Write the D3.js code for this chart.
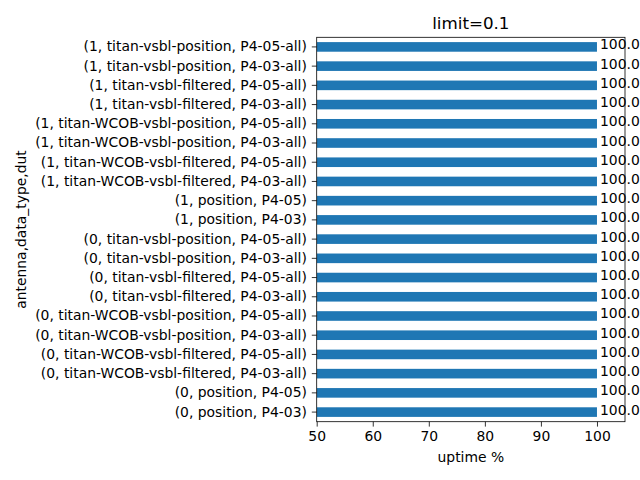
<!DOCTYPE html>
<html>
<head>
<meta charset="utf-8">
<script src="https://cdn.jsdelivr.net/npm/d3@7"></script>
<style>
body { margin: 0; background: #fff; }
text { font-family: "DejaVu Sans", sans-serif; }
</style>
</head>
<body>
<svg id="chart" width="640" height="480"></svg>
<script>
// categories, bottom to top as in the picture
var categories = [
    "(0, position, P4-03)",
    "(0, position, P4-05)",
    "(0, titan-WCOB-vsbl-filtered, P4-03-all)",
    "(0, titan-WCOB-vsbl-filtered, P4-05-all)",
    "(0, titan-WCOB-vsbl-position, P4-03-all)",
    "(0, titan-WCOB-vsbl-position, P4-05-all)",
    "(0, titan-vsbl-filtered, P4-03-all)",
    "(0, titan-vsbl-filtered, P4-05-all)",
    "(0, titan-vsbl-position, P4-03-all)",
    "(0, titan-vsbl-position, P4-05-all)",
    "(1, position, P4-03)",
    "(1, position, P4-05)",
    "(1, titan-WCOB-vsbl-filtered, P4-03-all)",
    "(1, titan-WCOB-vsbl-filtered, P4-05-all)",
    "(1, titan-WCOB-vsbl-position, P4-03-all)",
    "(1, titan-WCOB-vsbl-position, P4-05-all)",
    "(1, titan-vsbl-filtered, P4-03-all)",
    "(1, titan-vsbl-filtered, P4-05-all)",
    "(1, titan-vsbl-position, P4-03-all)",
    "(1, titan-vsbl-position, P4-05-all)"
];
var uptime = [100, 100, 100, 100, 100, 100, 100, 100, 100, 100,
              100, 100, 100, 100, 100, 100, 100, 100, 100, 100];
var xTicks = [50, 60, 70, 80, 90, 100];

var axLeft = 316.7, axRight = 625, axTop = 37.3, axBottom = 421.7;

var svg = d3.select("#chart");

var x = d3.scaleLinear().domain([50, 105]).range([axLeft, axRight]);
var y = d3.scaleBand()
    .domain(categories.slice().reverse())
    .range([axTop, axBottom])
    .paddingInner(0.5)
    .paddingOuter(0.25);

svg.append("defs").append("clipPath").attr("id", "clip")
    .append("rect")
    .attr("x", axLeft).attr("y", axTop)
    .attr("width", axRight - axLeft).attr("height", axBottom - axTop);

// bars
svg.append("g").attr("clip-path", "url(#clip)")
    .selectAll("rect")
    .data(categories)
    .enter().append("rect")
    .attr("x", x(50))
    .attr("y", function(d) { return y(d); })
    .attr("width", function(d, i) { return x(uptime[i]) - x(50); })
    .attr("height", y.bandwidth())
    .style("fill", "#1f77b4");

// axes
var xAxis = svg.append("g")
    .attr("transform", "translate(0," + axBottom + ")")
    .call(d3.axisBottom(x).tickValues(xTicks).tickSize(4.9).tickPadding(4.9).tickFormat(d3.format("d")));
var yAxis = svg.append("g")
    .attr("transform", "translate(" + axLeft + ",0)")
    .call(d3.axisLeft(y).tickSize(4.9).tickPadding(4.9));

[xAxis, yAxis].forEach(function(a) {
    a.select(".domain").remove();
    a.selectAll("line").style("stroke", "#000").style("stroke-width", 0.8);
    a.selectAll("text").style("font-size", "13.9px").style("fill", "#000")
        .style("font-family", "DejaVu Sans");
});

// frame
svg.append("rect")
    .attr("x", axLeft).attr("y", axTop)
    .attr("width", axRight - axLeft).attr("height", axBottom - axTop)
    .style("fill", "none").style("stroke", "#000").style("stroke-width", 0.8);

// value labels
svg.append("g")
    .selectAll("text")
    .data(categories)
    .enter().append("text")
    .attr("x", function(d, i) { return x(uptime[i]) + 3; })
    .attr("y", function(d) { return y(d) + y.bandwidth() / 2 + 2.5; })
    .style("font-size", "13.9px")
    .style("fill", "#000")
    .text(function(d, i) { return uptime[i].toFixed(1); });

// titles
svg.append("text")
    .attr("x", (axLeft + axRight) / 2).attr("y", axTop - 8)
    .attr("text-anchor", "middle")
    .style("font-size", "16.7px")
    .text("limit=0.1");
svg.append("text")
    .attr("x", (axLeft + axRight) / 2).attr("y", 462)
    .attr("text-anchor", "middle")
    .style("font-size", "13.9px")
    .text("uptime %");
svg.append("text")
    .attr("transform", "translate(26," + (axTop + axBottom) / 2 + ") rotate(-90)")
    .attr("text-anchor", "middle")
    .style("font-size", "13.9px")
    .text("antenna,data_type,dut");
</script>
</body>
</html>
